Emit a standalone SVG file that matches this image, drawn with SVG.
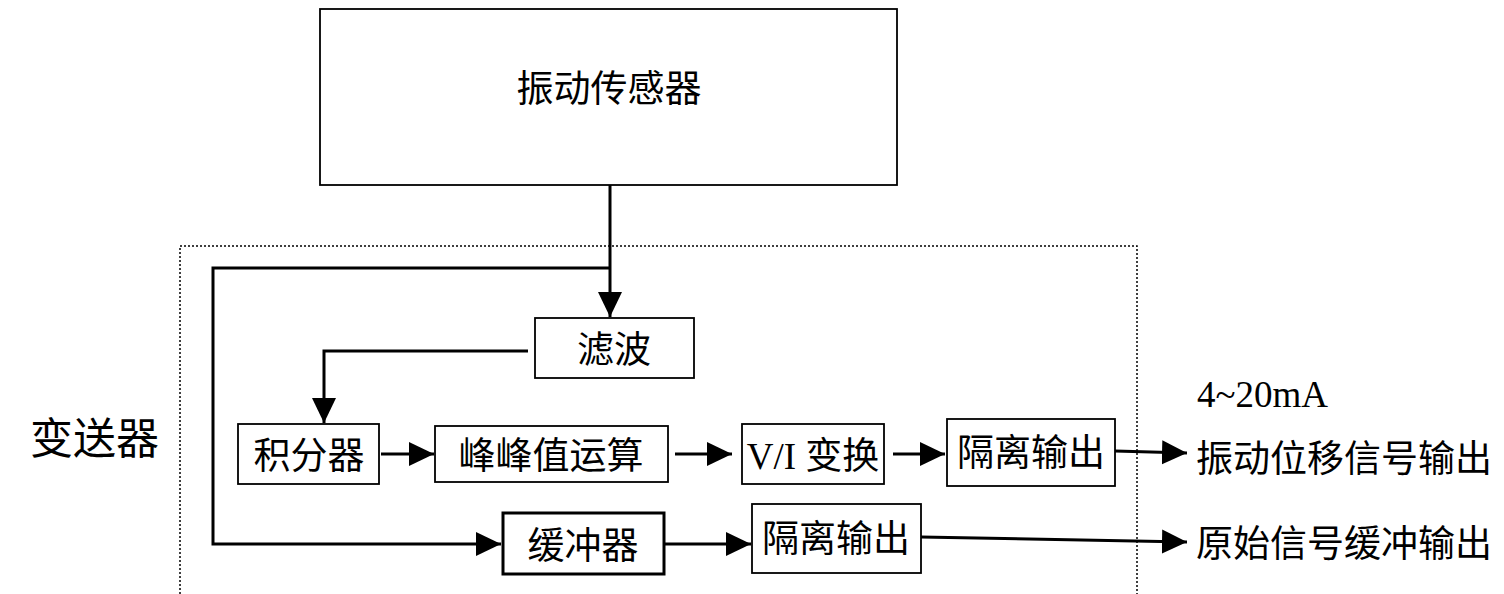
<svg xmlns="http://www.w3.org/2000/svg" width="1504" height="594" viewBox="0 0 1504 594">
<style>
.box{fill:#fff;stroke:#000;stroke-width:1.8}
.thick{stroke-width:3}
.t{font-family:"Liberation Serif","Noto Sans CJK SC",serif;font-size:37px;fill:#000;text-anchor:middle;dominant-baseline:central}
.tl{font-family:"Liberation Serif","Noto Sans CJK SC",serif;font-size:37px;fill:#000;dominant-baseline:central}
.c{fill:none;stroke:#000;stroke-width:3}
.dot{fill:none;stroke:#000;stroke-width:1.5;stroke-dasharray:2 2}
</style>
<defs>
<marker id="ah" markerWidth="26" markerHeight="26" refX="25" refY="13" orient="auto" markerUnits="userSpaceOnUse">
<path d="M0,1 L25,13 L0,25 Z" fill="#000"/>
</marker>
</defs>
<rect width="1504" height="594" fill="#fff"/>
<path class="dot" d="M180,594 V246 H1137 V594"/>
<text class="tl" x="30" y="439" style="font-size:43px">变送器</text>

<g id="connectors">
<path class="c" d="M610,185 V317" marker-end="url(#ah)"/>
<path class="c" d="M610,268 H213 V544 H501" marker-end="url(#ah)"/>
<path class="c" d="M528,351 H324 V423" marker-end="url(#ah)"/>
<path class="c" d="M381,454 H434" marker-end="url(#ah)"/>
<path class="c" d="M675,454 H732" marker-end="url(#ah)"/>
<path class="c" d="M893,454 H945" marker-end="url(#ah)"/>
<path class="c" d="M1115,451 L1187,453" marker-end="url(#ah)"/>
<path class="c" d="M664,544 H751" marker-end="url(#ah)"/>
<path class="c" d="M921,537 L1187,542" marker-end="url(#ah)"/>
</g>

<g id="sensor">
<rect class="box" x="320" y="9" width="577" height="176"/>
<text class="t" x="609" y="89">振动传感器</text>
</g>
<g id="filter">
<rect class="box" x="535" y="318" width="159" height="60"/>
<text class="t" x="614" y="350">滤波</text>
</g>
<g id="integrator">
<rect class="box" x="238" y="424" width="141" height="60"/>
<text class="t" x="309" y="456">积分器</text>
</g>
<g id="peak">
<rect class="box" x="435" y="426" width="233" height="56"/>
<text class="t" x="551" y="456">峰峰值运算</text>
</g>
<g id="vi">
<rect class="box" x="742" y="424" width="142" height="60"/>
<text class="t" x="813" y="456">V/I 变换</text>
</g>
<g id="iso1">
<rect class="box" x="947" y="419" width="168" height="67"/>
<text class="t" x="1031" y="453">隔离输出</text>
</g>
<g id="buffer">
<rect class="box thick" x="503" y="513" width="161" height="61"/>
<text class="t" x="583" y="546">缓冲器</text>
</g>
<g id="iso2">
<rect class="box" x="752" y="504" width="169" height="69"/>
<text class="t" x="836" y="539">隔离输出</text>
</g>
<g id="out1">
<text class="tl" x="1197" y="394">4~20mA</text>
<text class="tl" x="1196" y="459">振动位移信号输出</text>
</g>
<g id="out2">
<text class="tl" x="1196" y="544">原始信号缓冲输出</text>
</g>
</svg>
